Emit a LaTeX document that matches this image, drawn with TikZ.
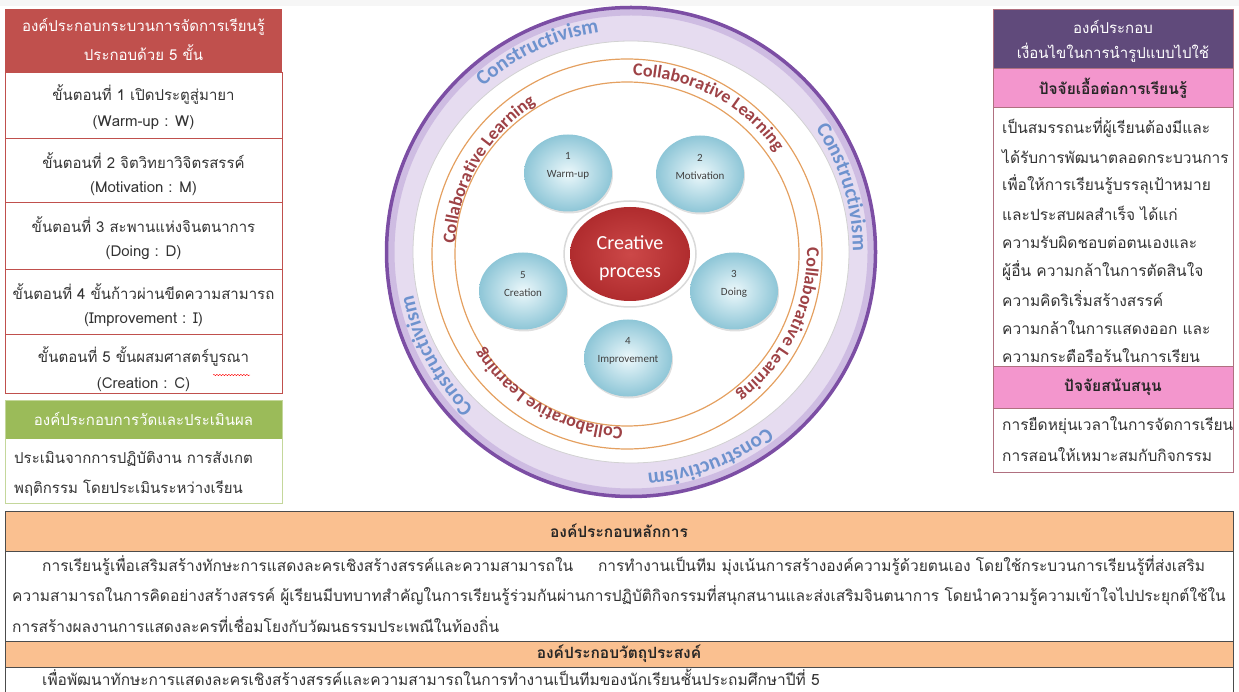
\documentclass[tikz,border=0pt]{standalone}
\usepackage{fontspec}
\newfontfamily\thaifont[Script=Thai]{Loma}
\newfontfamily\calfont{Carlito}
\usetikzlibrary{positioning,shapes.geometric,shadows,decorations.text,decorations.pathmorphing}

\definecolor{hdrred}{RGB}{192,80,77}
\definecolor{hdrgreen}{RGB}{155,187,89}
\definecolor{bodgreen}{RGB}{196,215,155}
\definecolor{hdrpurple}{RGB}{96,74,123}
\definecolor{rowpink}{RGB}{243,150,205}
\definecolor{bordpink}{RGB}{176,112,128}
\definecolor{roworange}{RGB}{250,192,144}
\definecolor{ringpurple}{RGB}{124,78,164}
\definecolor{ringmid}{RGB}{206,188,226}
\definecolor{ringfill}{RGB}{230,220,240}
\definecolor{ringorange}{RGB}{228,160,96}
\definecolor{bubin}{RGB}{236,248,251}
\definecolor{bubout}{RGB}{142,198,215}
\definecolor{cpin}{RGB}{204,72,72}
\definecolor{cpout}{RGB}{176,44,46}
\definecolor{constblue}{RGB}{110,146,206}
\definecolor{collred}{RGB}{158,66,70}

\tikzset{
  txt/.style={font=\thaifont\fontsize{15.5}{18}\selectfont, text=black!80, inner sep=0pt},
  ltxt/.style={txt, font=\thaifont\fontsize{15}{18}\selectfont},
  btxt/.style={txt, font=\thaifont\bfseries\fontsize{15.5}{18}\selectfont, text=black!85},
  hdtxt/.style={ltxt, text=white},
  bubble/.style={ellipse, minimum width=88pt, minimum height=77pt, inner color=bubin, outer color=bubout,
     drop shadow={opacity=0.25, shadow xshift=1pt, shadow yshift=-2pt}},
  bublbl/.style={font=\calfont\fontsize{11}{18}\selectfont, align=center, text=black!75, inner sep=0pt},
}

\begin{document}
\begin{tikzpicture}[x=1pt,y=-1pt]
\useasboundingbox (0,0) rectangle (1239,692);
\fill[gray!7] (0,0) rectangle (1239,6);

%left table
\def\lx{5};
\def\rx{282};
\fill[hdrred] (\lx,9) rectangle (\rx,72);
\node[hdtxt] (lhd1) at (143.5,27) {องค์ประกอบกระบวนการจัดการเรียนรู้};
\node[hdtxt] (lhd2) at (143.5,53) {ประกอบด้วย 5 ขั้น};
\foreach \i/\ya/\yb/\th/\en in {1/72/138/เปิดประตูสู่มายา/Warm-up : W,2/138/202/จิตวิทยาวิจิตรสรรค์/Motivation : M,3/202/269/สะพานแห่งจินตนาการ/Doing : D,4/269/334/ขั้นก้าวผ่านขีดความสามารถ/Improvement : I,5/334/393/ขั้นผสมศาสตร์บูรณา/Creation : C}{
    \draw[hdrred, line width=0.8pt] (\lx,\ya) rectangle (\rx,\yb);
    \node[ltxt] (st\i) at (143.5,\ya+23) {ขั้นตอนที่ \i\ \th};
    \node[ltxt] (en\i) at (143.5,\ya+51) {(\en)};
}
\draw[red, decorate, decoration={snake, amplitude=0.7pt, segment length=3pt}] (213,375) -- (250,375);

%measure box
\fill[hdrgreen] (\lx,400) rectangle (\rx,439);
\draw[bodgreen, line width=0.8pt] (\lx,400) rectangle (\rx,503);
\node[hdtxt] (ghd) at (143.5,419) {องค์ประกอบการวัดและประเมินผล};
\node[ltxt, anchor=west] (gb1) at (14,459) {ประเมินจากการปฏิบัติงาน การสังเกต};
\node[ltxt, anchor=west] (gb2) at (14,488) {พฤติกรรม โดยประเมินระหว่างเรียน};

%right table
\def\qx{993};
\def\wx{1233};
\fill[hdrpurple] (\qx,9) rectangle (\wx,68);
\fill[rowpink] (\qx,68) rectangle (\wx,107);
\fill[rowpink] (\qx,366) rectangle (\wx,408);
\draw[bordpink, line width=0.8pt] (\qx,9) rectangle (\wx,472);
\foreach \y in {68,107,366,408}
    \draw[bordpink, line width=0.8pt] (\qx,\y) -- (\wx,\y);
\node[hdtxt] (rhd1) at (1113,27) {องค์ประกอบ};
\node[hdtxt] (rhd2) at (1113,53) {เงื่อนไขในการนำรูปแบบไปใช้};
\node[btxt] (pk1) at (1113,88) {ปัจจัยเอื้อต่อการเรียนรู้};
\foreach \k/\ln in {1/เป็นสมรรถนะที่ผู้เรียนต้องมีและ,2/ได้รับการพัฒนาตลอดกระบวนการ,3/เพื่อให้การเรียนรู้บรรลุเป้าหมาย,4/และประสบผลสำเร็จ ได้แก่,5/ความรับผิดชอบต่อตนเองและ,6/ผู้อื่น ความกล้าในการตัดสินใจ,7/ความคิดริเริ่มสร้างสรรค์,8/ความกล้าในการแสดงออก และ,9/ความกระตือรือร้นในการเรียน}{
    \node[txt, anchor=west] (rb\k) at (1002,99.5+28.5*\k) {\ln};
}
\node[btxt] (pk2) at (1113,387) {ปัจจัยสนับสนุน};
\node[txt, anchor=west] (rs1) at (1002,426) {การยืดหยุ่นเวลาในการจัดการเรียน};
\node[txt, anchor=west] (rs2) at (1002,455) {การสอนให้เหมาะสมกับกิจกรรม};

%bottom table
\fill[roworange] (5,511) rectangle (1233,551);
\fill[roworange] (5,641) rectangle (1233,667);
\draw[black!70, line width=0.8pt] (5,511) rectangle (1233,700);
\foreach \y in {551,641,667}
    \draw[black!70, line width=0.8pt] (5,\y) -- (1233,\y);
\node[btxt] (bh1) at (619,531) {องค์ประกอบหลักการ};
\node[txt, anchor=west] (bl1) at (42,566) {การเรียนรู้เพื่อเสริมสร้างทักษะการแสดงละครเชิงสร้างสรรค์และความสามารถใน\hspace{1.6em}การทำงานเป็นทีม มุ่งเน้นการสร้างองค์ความรู้ด้วยตนเอง โดยใช้กระบวนการเรียนรู้ที่ส่งเสริม};
\node[txt, anchor=west] (bl2) at (12,596) {ความสามารถในการคิดอย่างสร้างสรรค์ ผู้เรียนมีบทบาทสำคัญในการเรียนรู้ร่วมกันผ่านการปฏิบัติกิจกรรมที่สนุกสนานและส่งเสริมจินตนาการ โดยนำความรู้ความเข้าใจไปประยุกต์ใช้ใน};
\node[txt, anchor=west] (bl3) at (12,625) {การสร้างผลงานการแสดงละครที่เชื่อมโยงกับวัฒนธรรมประเพณีในท้องถิ่น};
\node[btxt] (bh2) at (619,654) {องค์ประกอบวัตถุประสงค์};
\node[txt, anchor=west] (bl4) at (42,677) {เพื่อพัฒนาทักษะการแสดงละครเชิงสร้างสรรค์และความสามารถในการทำงานเป็นทีมของนักเรียนชั้นประถมศึกษาปีที่ 5};

%circle
\begin{scope}[shift={(631,252)}, y=1pt]
  \fill[ringfill, even odd rule] (0,0) circle (246) (0,0) ellipse (218 and 211);
  \draw[ringmid, line width=7pt] (0,0) circle (240);
  \draw[ringpurple, line width=3.5pt] (0,0) circle (244.5);
  \draw[gray!35, line width=0.8pt] (0,0) ellipse (218 and 211);
  \draw[ringorange, line width=1.2pt] (-4,-2) circle (195);
  \draw[ringorange, line width=1.2pt] (-4,-2) circle (172);

  \foreach \a in {115,17,-69,-152}{
    \path[decorate, decoration={text along path, text align=center, text color=constblue,
        text={|\calfont\bfseries\fontsize{21}{21}\selectfont|Constructivism}}]
        (\a+30:222) arc[start angle=\a+30, end angle=\a-30, radius=222];
  }
  \foreach \a in {62,150,-26,-120}{
    \path[decorate, decoration={text along path, text align=center, text color=collred,
        text={|\calfont\bfseries\fontsize{18}{18}\selectfont|Collaborative Learning}}]
        (\a+50:176) arc[start angle=\a+50, end angle=\a-50, radius=176];
  }

  \foreach \i/\x/\y/\name in {1/-63/79/Warm-up,2/69/78/Motivation,3/103/-39/Doing,4/-3/-106/Improvement,5/-108/-39/Creation}{
    \node[bubble] (b\i) at (\x,\y) {};
    \node[bublbl] (bl\i) at (\x,\y+7) {\i\\\name};
  }

  \draw[gray!30, line width=1.5pt, fill=white] (-1,-2) ellipse (66 and 53);
  \node[ellipse, minimum width=120pt, minimum height=94pt, inner color=cpin, outer color=cpout] (cp) at (-1,-2) {};
  \node[font=\calfont\fontsize{20}{28}\selectfont, text=white, align=center, inner sep=0pt] (cpt) at (-1,-6) {Creative\\process};
\end{scope}

\end{tikzpicture}
\end{document}
